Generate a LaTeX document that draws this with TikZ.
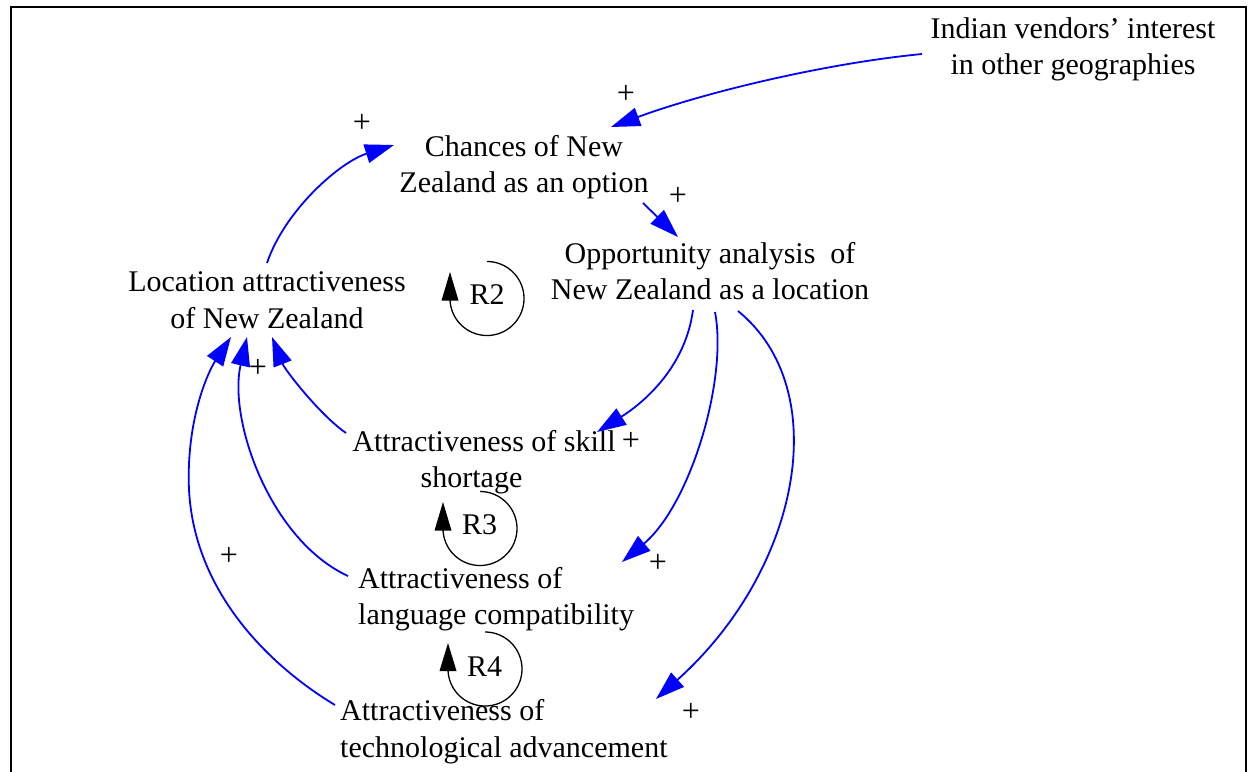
\documentclass[tikz,border=0pt]{standalone}
\usepackage{fontspec}
\setmainfont{Liberation Serif}
\usetikzlibrary{arrows.meta,calc}
\begin{document}
\begin{tikzpicture}[x=1pt,y=-1pt,
  lbl/.style={font=\fontsize{30}{36.5}\selectfont, align=center, inner sep=0pt},
  pls/.style={font=\fontsize{32}{36}\selectfont, inner sep=0pt},
  rlab/.style={font=\fontsize{30}{36}\selectfont, inner sep=0pt},
  cl/.style={draw=blue, line width=1.8pt, -{Triangle[length=29pt,width=19pt,fill=blue]}},
  loopc/.style={draw=black, line width=1.3pt},
  frame/.style={draw=black, line width=2.2pt}]
\fill[white] (0,0) rectangle (1252,771);
\useasboundingbox (0,0) rectangle (1252,771);
\draw[frame] (11,775) -- (11,7) -- (1246,7) -- (1246,775);

% nodes
\node[lbl] (ind) at (1073,49.5) {Indian vendors’ interest\\in other geographies};
\node[lbl] (cha) at (524,167) {Chances of New\\Zealand as an option};
\node[lbl] (opp) at (710,271) {Opportunity analysis \ of\\New Zealand as a location};
\node[lbl] (loc) at (267,300) {Location attractiveness\\of New Zealand};
\node[lbl] (ski) at (484,462) {Attractiveness of skill\\shortage\hspace*{25pt}};
\node[lbl, align=left, anchor=west] (lan) at (358,599) {Attractiveness of\\language compatibility};
\node[lbl, align=left, anchor=west] (tec) at (340,731.5) {Attractiveness of\\technological advancement};

% connectors
\draw[cl] ($(ind)+(-151,4.5)$) .. controls (820,64) and (700,94) .. ($(cha)+(87,-40)$);
\draw[cl] ($(cha)+(119,36)$) -- ($(opp)+(-32,-34)$);
\draw[cl] ($(loc)+(0,-37)$) .. controls (285,210) and (340,162) .. ($(cha)+(-130,-22)$);
\draw[cl] ($(opp)+(-17,39)$) .. controls (685,370) and (640,405) .. ($(ski)+(113,-30)$);
\draw[cl] ($(opp)+(5,41)$) .. controls (728,380) and (690,505) .. ($(lan.west)+(264,-37)$);
\draw[cl] ($(opp)+(28,40)$) .. controls (835,390) and (800,570) .. ($(tec.west)+(316,-32.5)$);
\draw[cl] ($(ski)+(-138,-29)$) .. controls (320,415) and (285,370) .. ($(loc)+(5,37)$);
\draw[cl] ($(lan.west)+(-10,-23)$) .. controls (270,540) and (228,420) .. ($(loc)+(-20,37)$);
\draw[cl] ($(tec.west)+(-5,-26.5)$) .. controls (280,672) and (195,600) .. (189,490)
          .. controls (186,420) and (208,372) .. ($(loc)+(-36,37)$);

% polarity signs
\node[pls] (p1) at (626,94) {+};
\node[pls] (p2) at (362,123) {+};
\node[pls] (p3) at (678,196) {+};
\node[pls] (p4) at (631,441) {+};
\node[pls] (p5) at (658,563) {+};
\node[pls] (p6) at (691,712) {+};
\node[pls] (p7) at (258,368) {+};
\node[pls] (p8) at (229,556) {+};

% loops
\draw[loopc] plot[domain=-90:180,samples=90] ({487+37*cos(\x)},{298.5+37*sin(\x)});
\fill[black] (441.5,300.5) -- (458.5,300.5) -- (450,272) -- cycle;
\node[rlab] (r2) at (487,295) {R2};

\draw[loopc] plot[domain=-90:180,samples=90] ({480+37*cos(\x)},{528.5+37*sin(\x)});
\fill[black] (434.5,530.5) -- (451.5,530.5) -- (443,502) -- cycle;
\node[rlab] (r3) at (479.5,525) {R3};

\draw[loopc] plot[domain=-90:180,samples=90] ({485+37*cos(\x)},{669+37*sin(\x)});
\fill[black] (439.5,671) -- (456.5,671) -- (448,643) -- cycle;
\node[rlab] (r4) at (484.5,667) {R4};
\end{tikzpicture}
\end{document}
